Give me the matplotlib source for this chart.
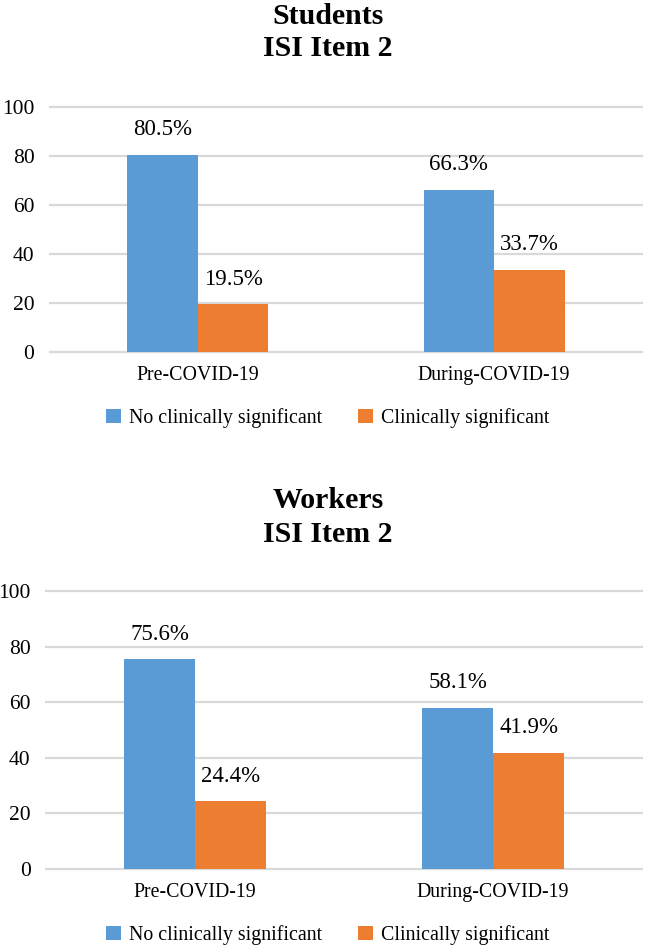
import matplotlib.pyplot as plt
import numpy as np

plt.rcParams['font.family'] = ['Liberation Serif', 'DejaVu Serif']

periods = ["Pre-COVID-19", "During-COVID-19"]
seriesNames = ["No clinically significant", "Clinically significant"]
studentsNo = [80.5, 66.3]
studentsYes = [19.5, 33.7]
workersNo = [75.6, 58.1]
workersYes = [24.4, 41.9]
yTicks = [0, 20, 40, 60, 80, 100]

blue = "#5B9BD5"
orange = "#ED7D31"
grid = "#D9D9D9"

fig = plt.figure(figsize=(6.46, 9.49), dpi=100)

def drawPanel(rect, noVals, yesVals):
    ax = fig.add_axes(rect)
    x = np.arange(len(periods))
    w = 0.238
    b1 = ax.bar(x - w / 2, noVals, w, color=blue, label=seriesNames[0], zorder=3)
    b2 = ax.bar(x + w / 2, yesVals, w, color=orange, label=seriesNames[1], zorder=3)
    for bars in (b1, b2):
        for bar in bars:
            h = bar.get_height()
            ax.annotate(f"{h:.1f}%", (bar.get_x() + bar.get_width() / 2, h),
                        xytext=(0, 18), textcoords="offset points",
                        ha="center", va="center", fontsize=16.5)
    ax.set_xlim(-0.5, 1.5)
    ax.set_ylim(0, 100)
    ax.set_yticks(yTicks)
    ax.set_xticks(x)
    ax.set_xticklabels(periods)
    ax.yaxis.grid(True, color=grid, linewidth=1.6, zorder=0)
    ax.set_axisbelow(True)
    for s in ax.spines.values():
        s.set_visible(False)
    ax.tick_params(axis="both", length=0, labelsize=14.3)
    ax.tick_params(axis="y", labelsize=15.5, pad=11)
    ax.tick_params(axis="x", pad=10)
    for line in ax.get_ygridlines():
        line.set_clip_on(False)
    return ax

ax1 = drawPanel([0.077, 0.629, 0.917, 0.258], studentsNo, studentsYes)
ax2 = drawPanel([0.071, 0.0843, 0.923, 0.2927], workersNo, workersYes)

for ax, ly in ((ax1, 0.5595), (ax2, 0.0147)):
    ax.legend(loc="center", bbox_to_anchor=(0.507, ly), bbox_transform=fig.transFigure,
              ncol=2, frameon=False, fontsize=14.3, handlelength=0.75, handleheight=0.75,
              handletextpad=0.4, columnspacing=1.8)

fig.text(0.508, 1 - 16 / 949, "Students", ha="center", va="center", fontsize=21.5, fontweight="bold")
fig.text(0.508, 1 - 49 / 949, "ISI Item 2", ha="center", va="center", fontsize=21.5, fontweight="bold")
fig.text(0.508, 1 - 501 / 949, "Workers", ha="center", va="center", fontsize=21.5, fontweight="bold")
fig.text(0.508, 1 - 535 / 949, "ISI Item 2", ha="center", va="center", fontsize=21.5, fontweight="bold")

fig.savefig("out.png", dpi=100)
